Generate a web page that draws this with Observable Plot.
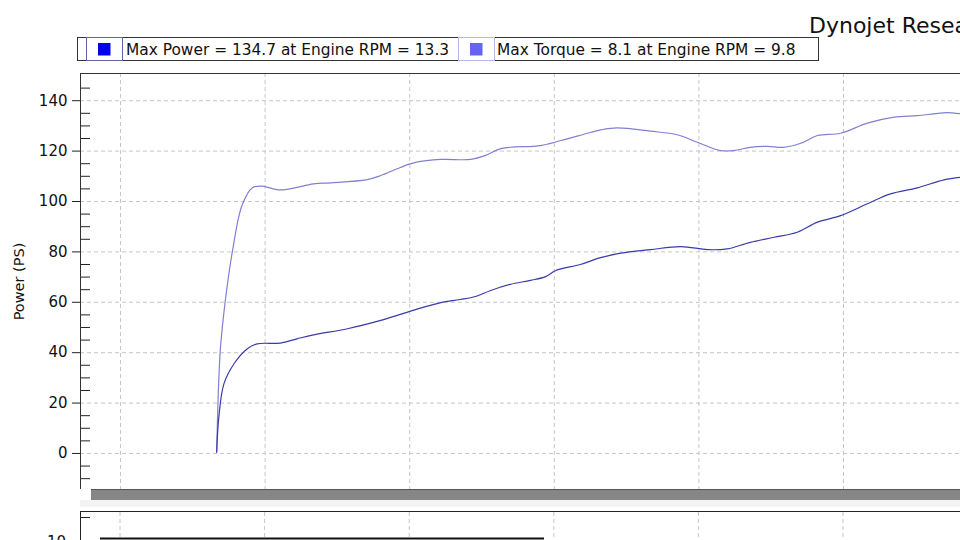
<!DOCTYPE html>
<html><head><meta charset="utf-8">
<script src="https://cdn.jsdelivr.net/npm/d3@7"></script>
<script src="https://cdn.jsdelivr.net/npm/@observablehq/plot@0.6"></script>
<style>
html,body{margin:0;padding:0;background:#fff;}
#chart svg{display:block;overflow:hidden;}
</style>
</head><body><div id="chart"></div>
<script>
// ---- data ----
const upperRpm = [3.33,3.38,3.45,3.55,3.68,3.82,3.96,4.21,4.67,4.91,5.41,5.60,5.87,6.08,6.43,6.84,7.05,7.26,7.81,8.09,8.50,8.64,8.87,9.33,9.70,9.98,10.30,10.48,10.71,10.95,11.17,11.41,11.64,11.96,12.33,12.70,13.02,13.25,13.43,13.62];
const upperPower = [0.5,40.9,60.7,80.6,98.4,105.4,106.1,104.6,107.0,107.4,108.7,110.3,113.5,115.5,116.7,116.7,118.3,121.0,122.2,124.2,127.4,128.4,129.2,127.9,126.5,123.5,120.2,120.2,121.5,121.9,121.5,123.1,126.2,127.1,131.1,133.5,134.1,134.8,135.3,134.8];
const lowerRpm = [3.33,3.36,3.43,3.57,3.75,3.89,4.21,4.44,4.67,5.14,5.60,5.87,6.08,6.43,6.70,6.91,7.12,7.39,7.67,7.88,8.02,8.36,8.64,8.92,9.33,9.75,10.12,10.39,10.71,11.04,11.36,11.64,11.96,12.33,12.65,13.02,13.39,13.62];
const lowerPower = [0.5,14.4,27.6,35.6,41.5,43.5,43.8,45.5,47.1,49.5,52.8,55.2,57.1,59.9,61.1,62.3,64.7,67.1,68.7,70.2,72.6,75.0,77.7,79.5,80.9,82.1,80.9,81.2,83.8,85.8,87.8,91.8,94.4,99.1,103.0,105.4,108.6,109.6];
const seriesNames = ["upper", "lower"];
const lineColors = ["#8080d2", "#3b3ba8"];
const yTicks = [0,20,40,60,80,100,120,140];
const yMinorTicks = [-10,-5,5,10,15,25,30,35,45,50,55,65,70,75,85,90,95,105,110,115,125,130,135,145];
const xGridRpm = [2,4,6,8,10,12];
const xDomain = [1.4467, 13.618];
const yDomain = [-14.3, 150.8];
const legendLabels = ["Max Power = 134.7 at Engine RPM = 13.3", "Max Torque = 8.1 at Engine RPM = 9.8"];
const legendColors = ["#0000ee", "#6464f0"];
const legendBoxColors = ["#6262a8", "#b8b8e6"];
const titleText = "Dynojet Research";
const yLabel = "Power (PS)";
const lowerPanelTickLabel = "10";

// ---- table ----
const rows = [
  ...upperRpm.map((r, i) => ({rpm: r, power: upperPower[i], run: "upper"})),
  ...lowerRpm.map((r, i) => ({rpm: r, power: lowerPower[i], run: "lower"}))
];

const W = 960, H = 540;
const FONT = "DejaVu Sans";
const plot = Plot.plot({
  width: W, height: H,
  marginLeft: 80, marginRight: 0, marginTop: 73, marginBottom: 51,
  style: {fontFamily: FONT, fontSize: "15px", color: "#111", background: "#fff", overflow: "hidden"},
  x: {domain: xDomain, axis: null},
  y: {domain: yDomain},
  color: {domain: seriesNames, range: lineColors},
  marks: [
    Plot.gridY(yTicks, {stroke: "#c6c6c6", strokeOpacity: 1, strokeDasharray: "4,3"}),
    Plot.gridX(xGridRpm, {stroke: "#c6c6c6", strokeOpacity: 1, strokeDasharray: "4,3"}),
    Plot.axisY(yTicks, {tickSize: 8, tickPadding: 5, fontSize: 15, stroke: "#222",
      label: yLabel, labelAnchor: "center", labelOffset: 67, labelArrow: "none"}),
    Plot.tickY(yMinorTicks, {y: d => d, stroke: "#222", insetRight: 870}),
    Plot.ruleX([xDomain[0]], {stroke: "#333"}),
    Plot.ruleY([yDomain[1]], {stroke: "#333"}),
    Plot.line(rows, {x: "rpm", y: "power", z: "run", stroke: "run", strokeWidth: 1.2, curve: "catmull-rom"})
  ]
});
document.getElementById("chart").appendChild(plot);

// y label font size
d3.select(plot).selectAll("g[aria-label='y-axis label'] text").attr("font-size", 14.5);

// ---- chrome around the plot ----
const svg = d3.select(plot);
const xs = plot.scale("x");
const g = svg.append("g").attr("text-anchor", "start");

// title (cut off at the right edge as in the screenshot)
g.append("text").attr("x", 809).attr("y", 33).attr("font-family", FONT).attr("font-size", 22)
  .attr("text-anchor", "start").attr("fill", "#111").text(titleText);

// legend
g.append("rect").attr("x", 77.5).attr("y", 37.5).attr("width", 741).attr("height", 23)
  .attr("fill", "none").attr("stroke", "#333");
const itemX = [86.5, 458.5];
const textX = [126, 497];
legendLabels.forEach((lab, i) => {
  g.append("rect").attr("x", itemX[i]).attr("y", 37.5).attr("width", 36).attr("height", 23)
    .attr("fill", "none").attr("stroke", legendBoxColors[i]);
  g.append("rect").attr("x", itemX[i] + 11.5).attr("y", 43).attr("width", 12.5).attr("height", 12.5)
    .attr("fill", legendColors[i]);
  g.append("text").attr("x", textX[i]).attr("y", 54.5).attr("font-family", FONT).attr("font-size", 15.4)
    .attr("text-anchor", "start").attr("fill", "#111").text(lab);
});

// gray scroll bar below the plot
g.append("rect").attr("x", 91).attr("y", 489).attr("width", 880).attr("height", 11).attr("fill", "#868686");
g.append("line").attr("x1", 91).attr("x2", 960).attr("y1", 489.5).attr("y2", 489.5).attr("stroke", "#555");
g.append("rect").attr("x", 80).attr("y", 500).attr("width", 880).attr("height", 7).attr("fill", "#f3f3f3");

// lower panel (mostly cut off)
g.append("line").attr("x1", 80).attr("x2", 960).attr("y1", 511.5).attr("y2", 511.5).attr("stroke", "#222");
g.append("line").attr("x1", 80.5).attr("x2", 80.5).attr("y1", 511).attr("y2", 540).attr("stroke", "#222");
g.append("line").attr("x1", 80).attr("x2", 90).attr("y1", 517.5).attr("y2", 517.5).attr("stroke", "#222");
xGridRpm.forEach(v => {
  g.append("line").attr("x1", xs.apply(v)).attr("x2", xs.apply(v)).attr("y1", 512).attr("y2", 540)
    .attr("stroke", "#c6c6c6").attr("stroke-dasharray", "4,3");
});
g.append("line").attr("x1", 100).attr("x2", 544).attr("y1", 538.5).attr("y2", 538.5)
  .attr("stroke", "#111").attr("stroke-width", 2);
g.append("line").attr("x1", 72).attr("x2", 80).attr("y1", 542).attr("y2", 542).attr("stroke", "#222");
g.append("text").attr("x", 66).attr("y", 547).attr("text-anchor", "end").attr("font-family", FONT)
  .attr("font-size", 15).attr("fill", "#111").text(lowerPanelTickLabel);
</script>
</body></html>
